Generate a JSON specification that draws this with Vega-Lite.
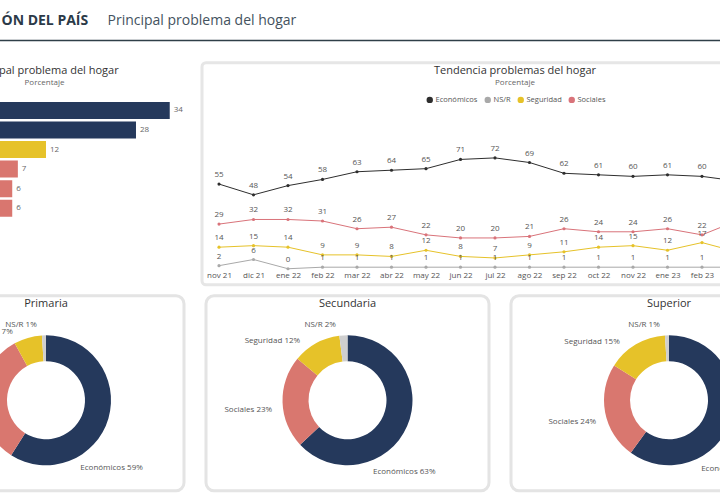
{
  "$schema": "https://vega.github.io/schema/vega-lite/v6.json",
  "background": "white",
  "padding": {"left": -94, "right": -107.5, "top": 0, "bottom": 10},
  "config": {
    "font": "Open Sans",
    "view": {"stroke": null},
    "title": {"fontWeight": "normal", "color": "#333333"}
  },
  "datasets": {
    "barras": [
      {"problema": "Costo de vida", "tipo": "Económicos", "valor": 34},
      {"problema": "Desempleo", "tipo": "Económicos", "valor": 28},
      {"problema": "Delincuencia", "tipo": "Seguridad", "valor": 12},
      {"problema": "Salud", "tipo": "Sociales", "valor": 7},
      {"problema": "Educación", "tipo": "Sociales", "valor": 6},
      {"problema": "Corrupción", "tipo": "Sociales", "valor": 6}
    ],
    "tendencia": [
      {"mes": "nov 21", "serie": "Económicos", "valor": 55}, {"mes": "nov 21", "serie": "Sociales", "valor": 29}, {"mes": "nov 21", "serie": "Seguridad", "valor": 14}, {"mes": "nov 21", "serie": "NS/R", "valor": 2},
      {"mes": "dic 21", "serie": "Económicos", "valor": 48}, {"mes": "dic 21", "serie": "Sociales", "valor": 32}, {"mes": "dic 21", "serie": "Seguridad", "valor": 15}, {"mes": "dic 21", "serie": "NS/R", "valor": 6},
      {"mes": "ene 22", "serie": "Económicos", "valor": 54}, {"mes": "ene 22", "serie": "Sociales", "valor": 32}, {"mes": "ene 22", "serie": "Seguridad", "valor": 14}, {"mes": "ene 22", "serie": "NS/R", "valor": 0},
      {"mes": "feb 22", "serie": "Económicos", "valor": 58}, {"mes": "feb 22", "serie": "Sociales", "valor": 31}, {"mes": "feb 22", "serie": "Seguridad", "valor": 9}, {"mes": "feb 22", "serie": "NS/R", "valor": 1},
      {"mes": "mar 22", "serie": "Económicos", "valor": 63}, {"mes": "mar 22", "serie": "Sociales", "valor": 26}, {"mes": "mar 22", "serie": "Seguridad", "valor": 9}, {"mes": "mar 22", "serie": "NS/R", "valor": 1},
      {"mes": "abr 22", "serie": "Económicos", "valor": 64}, {"mes": "abr 22", "serie": "Sociales", "valor": 27}, {"mes": "abr 22", "serie": "Seguridad", "valor": 8}, {"mes": "abr 22", "serie": "NS/R", "valor": 1},
      {"mes": "may 22", "serie": "Económicos", "valor": 65}, {"mes": "may 22", "serie": "Sociales", "valor": 22}, {"mes": "may 22", "serie": "Seguridad", "valor": 12}, {"mes": "may 22", "serie": "NS/R", "valor": 1},
      {"mes": "jun 22", "serie": "Económicos", "valor": 71}, {"mes": "jun 22", "serie": "Sociales", "valor": 20}, {"mes": "jun 22", "serie": "Seguridad", "valor": 8}, {"mes": "jun 22", "serie": "NS/R", "valor": 1},
      {"mes": "jul 22", "serie": "Económicos", "valor": 72}, {"mes": "jul 22", "serie": "Sociales", "valor": 20}, {"mes": "jul 22", "serie": "Seguridad", "valor": 7}, {"mes": "jul 22", "serie": "NS/R", "valor": 1},
      {"mes": "ago 22", "serie": "Económicos", "valor": 69}, {"mes": "ago 22", "serie": "Sociales", "valor": 21}, {"mes": "ago 22", "serie": "Seguridad", "valor": 9}, {"mes": "ago 22", "serie": "NS/R", "valor": 1},
      {"mes": "sep 22", "serie": "Económicos", "valor": 62}, {"mes": "sep 22", "serie": "Sociales", "valor": 26}, {"mes": "sep 22", "serie": "Seguridad", "valor": 11}, {"mes": "sep 22", "serie": "NS/R", "valor": 1},
      {"mes": "oct 22", "serie": "Económicos", "valor": 61}, {"mes": "oct 22", "serie": "Sociales", "valor": 24}, {"mes": "oct 22", "serie": "Seguridad", "valor": 14}, {"mes": "oct 22", "serie": "NS/R", "valor": 1},
      {"mes": "nov 22", "serie": "Económicos", "valor": 60}, {"mes": "nov 22", "serie": "Sociales", "valor": 24}, {"mes": "nov 22", "serie": "Seguridad", "valor": 15}, {"mes": "nov 22", "serie": "NS/R", "valor": 1},
      {"mes": "ene 23", "serie": "Económicos", "valor": 61}, {"mes": "ene 23", "serie": "Sociales", "valor": 26}, {"mes": "ene 23", "serie": "Seguridad", "valor": 12}, {"mes": "ene 23", "serie": "NS/R", "valor": 1},
      {"mes": "feb 23", "serie": "Económicos", "valor": 60}, {"mes": "feb 23", "serie": "Sociales", "valor": 22}, {"mes": "feb 23", "serie": "Seguridad", "valor": 17}, {"mes": "feb 23", "serie": "NS/R", "valor": 1},
      {"mes": "mar 23", "serie": "Económicos", "valor": 57}, {"mes": "mar 23", "serie": "Sociales", "valor": 31}, {"mes": "mar 23", "serie": "Seguridad", "valor": 11}, {"mes": "mar 23", "serie": "NS/R", "valor": 1}
    ],
    "niveles": [
      {"nivel": "Primaria", "problema": "Económicos", "pct": 59},
      {"nivel": "Primaria", "problema": "Sociales", "pct": 33},
      {"nivel": "Primaria", "problema": "Seguridad", "pct": 7},
      {"nivel": "Primaria", "problema": "NS/R", "pct": 1},
      {"nivel": "Secundaria", "problema": "Económicos", "pct": 63},
      {"nivel": "Secundaria", "problema": "Sociales", "pct": 23},
      {"nivel": "Secundaria", "problema": "Seguridad", "pct": 12},
      {"nivel": "Secundaria", "problema": "NS/R", "pct": 2},
      {"nivel": "Superior", "problema": "Económicos", "pct": 60},
      {"nivel": "Superior", "problema": "Sociales", "pct": 24},
      {"nivel": "Superior", "problema": "Seguridad", "pct": 15},
      {"nivel": "Superior", "problema": "NS/R", "pct": 1}
    ]
  },
  "spacing": 20.75,
  "resolve": {"scale": {"color": "independent", "theta": "independent"}, "legend": {"color": "independent"}},
  "vconcat": [
    {
      "width": 920,
      "height": 40,
      "data": {"values": [{"t": 0}]},
      "mark": {"type": "point", "opacity": 0},
      "encoding": {
        "x": {
          "field": "t", "type": "quantitative",
          "axis": {
            "orient": "bottom", "domain": true, "domainColor": "#2f3f48", "domainWidth": 1.5,
            "ticks": false, "labels": false, "grid": false,
            "title": "Principal problema del hogar", "titleX": 199, "titleY": -20,
            "titleAlign": "left", "titleBaseline": "middle", "titleFontSize": 14,
            "titleFontWeight": "normal", "titleColor": "#44525e"
          }
        },
        "y": {
          "field": "t", "type": "quantitative",
          "axis": {
            "domain": false, "ticks": false, "labels": false, "grid": false,
            "title": "ÓN DEL PAÍS", "titleAngle": 0, "titleX": 93, "titleY": 20,
            "titleAlign": "left", "titleBaseline": "middle", "titleFontSize": 14,
            "titleFontWeight": "bold", "titleColor": "#2b3a48"
          }
        }
      }
    },
    {
      "spacing": 7,
      "resolve": {"scale": {"color": "independent", "theta": "independent"}, "legend": {"color": "independent"}},
      "vconcat": [
        {
          "bounds": "flush",
          "spacing": 7,
          "resolve": {"scale": {"color": "independent"}, "legend": {"color": "independent"}},
          "hconcat": [
            {
              "width": 287,
              "height": 154,
              "title": {
                "text": "Principal problema del hogar", "subtitle": "Porcentaje",
                "anchor": "middle", "frame": "group", "dx": -7, "offset": -24,
                "fontSize": 11, "subtitleFontSize": 8, "subtitleColor": "#666666", "subtitlePadding": 3
              },
              "data": {"name": "barras"},
              "encoding": {
                "y": {
                  "field": "problema", "type": "nominal", "sort": null, "axis": null,
                  "scale": {"paddingInner": 0.13, "paddingOuter": 1.09, "align": 1}
                },
                "x": {
                  "field": "valor", "type": "quantitative", "axis": null,
                  "scale": {"domain": [-12.53, 38.49], "nice": false}
                }
              },
              "layer": [
                {
                  "mark": {"type": "bar"},
                  "encoding": {
                    "color": {
                      "field": "tipo", "type": "nominal", "legend": null,
                      "scale": {"domain": ["Económicos", "Seguridad", "Sociales"], "range": ["#25395c", "#e6c229", "#d9766f"]}
                    }
                  }
                },
                {
                  "mark": {"type": "text", "align": "left", "dx": 4, "fontSize": 8, "color": "#666666"},
                  "encoding": {"text": {"field": "valor", "type": "quantitative"}}
                }
              ]
            },
            {
              "width": 626,
              "height": 222,
              "view": {"fill": "white", "stroke": "#e6e6e6", "strokeWidth": 3, "cornerRadius": 4},
              "title": {
                "text": "Tendencia problemas del hogar", "subtitle": "Porcentaje",
                "anchor": "middle", "frame": "group", "offset": -24,
                "fontSize": 11, "subtitleFontSize": 8, "subtitleColor": "#666666", "subtitlePadding": 3
              },
              "data": {"name": "tendencia"},
              "encoding": {
                "x": {
                  "field": "mes", "type": "ordinal",
                  "sort": ["nov 21", "dic 21", "ene 22", "feb 22", "mar 22", "abr 22", "may 22", "jun 22", "jul 22", "ago 22", "sep 22", "oct 22", "nov 22", "ene 23", "feb 23", "mar 23"],
                  "scale": {"type": "point", "range": [17, 534.5], "padding": 0},
                  "axis": {
                    "orient": "bottom", "offset": -14, "domain": false, "ticks": false,
                    "labelFontSize": 8, "labelColor": "#555555", "labelAngle": 0,
                    "labelPadding": 1, "labelOverlap": false, "title": null
                  }
                },
                "y": {
                  "field": "valor", "type": "quantitative", "axis": null,
                  "scale": {"domain": [-10.4, 133.8], "nice": false, "zero": false}
                },
                "color": {
                  "field": "serie", "type": "nominal",
                  "scale": {"domain": ["Económicos", "NS/R", "Seguridad", "Sociales"], "range": ["#2e2e2e", "#a9a9a9", "#e6c229", "#d9737a"]},
                  "legend": {
                    "orient": "none", "legendX": 224, "legendY": 33, "direction": "horizontal",
                    "title": null, "symbolType": "circle", "symbolSize": 24, "labelOffset": 2,
                    "labelFontSize": 7.5, "labelColor": "#555555", "columnPadding": 4
                  }
                }
              },
              "layer": [
                {"mark": {"type": "line", "strokeWidth": 1}},
                {"mark": {"type": "point", "filled": true, "size": 10, "opacity": 1}},
                {
                  "mark": {"type": "text", "dy": -9, "fontSize": 8},
                  "encoding": {
                    "text": {"field": "valor", "type": "quantitative"},
                    "color": {"value": "#555555"}
                  }
                }
              ]
            }
          ]
        },
        {
          "bounds": "flush",
          "spacing": 22,
          "resolve": {"scale": {"color": "independent", "theta": "independent"}, "legend": {"color": "independent"}},
          "hconcat": [
            {
              "width": 276,
              "height": 195,
              "view": {"fill": "white", "stroke": "#e4e4e4", "strokeWidth": 3, "cornerRadius": 8},
              "title": {"text": "Primaria", "offset": -13, "fontSize": 11, "frame": "group"},
              "data": {"name": "niveles"},
              "transform": [
                {"filter": "datum.nivel === 'Primaria'"},
                {"calculate": "indexof(['Económicos', 'Sociales', 'Seguridad', 'NS/R'], datum.problema)", "as": "orden"},
                {"calculate": "datum.problema + ' ' + datum.pct + '%'", "as": "etiqueta"}
              ],
              "encoding": {
                "theta": {"field": "pct", "type": "quantitative", "stack": true},
                "order": {"field": "orden", "type": "quantitative"},
                "color": {
                  "field": "problema", "type": "nominal", "legend": null,
                  "scale": {"domain": ["Económicos", "Sociales", "Seguridad", "NS/R"], "range": ["#25395c", "#d9776f", "#e6c229", "#cfcfcf"]}
                }
              },
              "layer": [
                {"mark": {"type": "arc", "innerRadius": 39, "outerRadius": 65, "yOffset": 7}},
                {
                  "mark": {
                    "type": "text", "radius": 76, "yOffset": 7, "fontSize": 8, "baseline": "middle",
                    "thetaOffset": {"expr": "datum.problema === 'Económicos' ? 0.82 : datum.problema === 'Sociales' ? -0.1 : datum.problema === 'Seguridad' ? -0.17 : -0.09"},
                    "align": {"expr": "datum.problema === 'Económicos' ? 'left' : 'right'"}
                  },
                  "encoding": {
                    "text": {"field": "etiqueta", "type": "nominal"},
                    "color": {"value": "#555555"}
                  }
                }
              ]
            },
            {
              "width": 283,
              "height": 195,
              "view": {"fill": "white", "stroke": "#e4e4e4", "strokeWidth": 3, "cornerRadius": 8},
              "title": {"text": "Secundaria", "offset": -13, "fontSize": 11, "frame": "group"},
              "data": {"name": "niveles"},
              "transform": [
                {"filter": "datum.nivel === 'Secundaria'"},
                {"calculate": "indexof(['Económicos', 'Sociales', 'Seguridad', 'NS/R'], datum.problema)", "as": "orden"},
                {"calculate": "datum.problema + ' ' + datum.pct + '%'", "as": "etiqueta"}
              ],
              "encoding": {
                "theta": {"field": "pct", "type": "quantitative", "stack": true},
                "order": {"field": "orden", "type": "quantitative"},
                "color": {
                  "field": "problema", "type": "nominal", "legend": null,
                  "scale": {"domain": ["Económicos", "Sociales", "Seguridad", "NS/R"], "range": ["#25395c", "#d9776f", "#e6c229", "#cfcfcf"]}
                }
              },
              "layer": [
                {"mark": {"type": "arc", "innerRadius": 39, "outerRadius": 65, "yOffset": 7}},
                {
                  "mark": {
                    "type": "text", "radius": 76, "yOffset": 7, "fontSize": 8, "baseline": "middle",
                    "thetaOffset": {"expr": "datum.problema === 'Económicos' ? 0.82 : datum.problema === 'Sociales' ? -0.1 : datum.problema === 'Seguridad' ? -0.17 : -0.09"},
                    "align": {"expr": "datum.problema === 'Económicos' ? 'left' : 'right'"}
                  },
                  "encoding": {
                    "text": {"field": "etiqueta", "type": "nominal"},
                    "color": {"value": "#555555"}
                  }
                }
              ]
            },
            {
              "width": 316,
              "height": 195,
              "view": {"fill": "white", "stroke": "#e4e4e4", "strokeWidth": 3, "cornerRadius": 8},
              "title": {"text": "Superior", "offset": -13, "fontSize": 11, "frame": "group"},
              "data": {"name": "niveles"},
              "transform": [
                {"filter": "datum.nivel === 'Superior'"},
                {"calculate": "indexof(['Económicos', 'Sociales', 'Seguridad', 'NS/R'], datum.problema)", "as": "orden"},
                {"calculate": "datum.problema + ' ' + datum.pct + '%'", "as": "etiqueta"}
              ],
              "encoding": {
                "theta": {"field": "pct", "type": "quantitative", "stack": true},
                "order": {"field": "orden", "type": "quantitative"},
                "color": {
                  "field": "problema", "type": "nominal", "legend": null,
                  "scale": {"domain": ["Económicos", "Sociales", "Seguridad", "NS/R"], "range": ["#25395c", "#d9776f", "#e6c229", "#cfcfcf"]}
                }
              },
              "layer": [
                {"mark": {"type": "arc", "innerRadius": 39, "outerRadius": 65, "yOffset": 7}},
                {
                  "mark": {
                    "type": "text", "radius": 76, "yOffset": 7, "fontSize": 8, "baseline": "middle",
                    "thetaOffset": {"expr": "datum.problema === 'Económicos' ? 0.82 : datum.problema === 'Sociales' ? -0.1 : datum.problema === 'Seguridad' ? -0.17 : -0.09"},
                    "align": {"expr": "datum.problema === 'Económicos' ? 'left' : 'right'"}
                  },
                  "encoding": {
                    "text": {"field": "etiqueta", "type": "nominal"},
                    "color": {"value": "#555555"}
                  }
                }
              ]
            }
          ]
        }
      ]
    }
  ]
}
